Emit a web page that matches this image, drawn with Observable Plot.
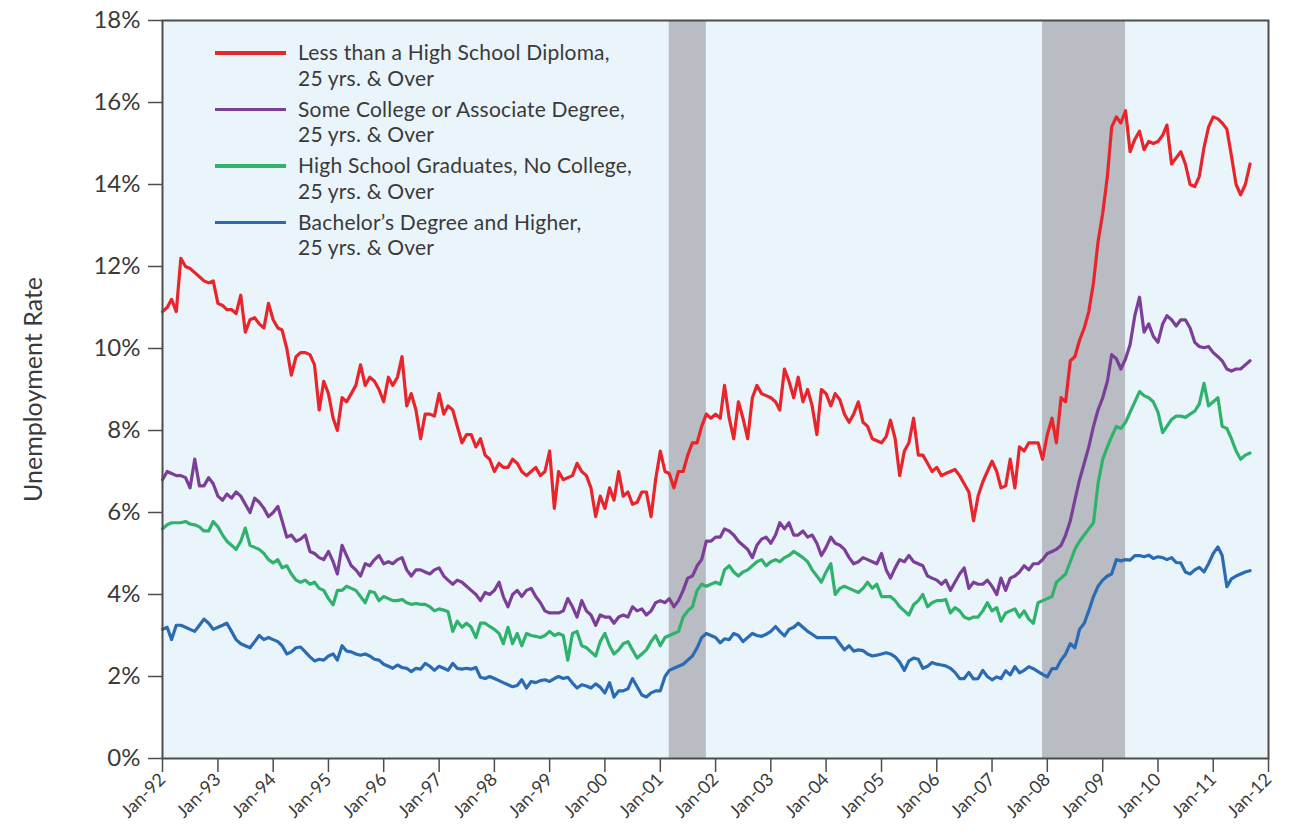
<!DOCTYPE html>
<html>
<head>
<meta charset="utf-8">
<script src="https://cdn.jsdelivr.net/npm/d3@7"></script>
<script src="https://cdn.jsdelivr.net/npm/@observablehq/plot@0.6"></script>
<style>
  body { margin: 0; background: #ffffff; }
  #wrap { position: relative; width: 1289px; height: 840px; font-family: Lato, "Open Sans", sans-serif; color: #3a3a3a; }
  #legend { position: absolute; left: 215px; top: 39px; }
  .entry { display: flex; align-items: flex-start; height: 56.5px; }
  .swatch { width: 71px; height: 3.5px; margin-top: 12px; margin-right: 12px; }
  .label { font-size: 21px; line-height: 25.5px; white-space: nowrap; letter-spacing: 0.2px; }
  .label div { height: 25.5px; }
</style>
</head>
<body>
<div id="wrap"><div id="legend"></div></div>
<script>
// ---- data (monthly, Jan 1992 onward) ----
const startYear = 1992;

const lessThanHS = [
  10.9, 11.0, 11.2, 10.9, 12.2, 12.0, 11.95, 11.85, 11.75, 11.65, 11.6, 11.65,
  11.1, 11.05, 10.95, 10.95, 10.85, 11.3, 10.4, 10.7, 10.75, 10.6, 10.5, 11.1,
  10.7, 10.5, 10.45, 10.0, 9.35, 9.8, 9.9, 9.9, 9.85, 9.6, 8.5, 9.2,
  8.9, 8.3, 8.0, 8.8, 8.7, 8.9, 9.1, 9.6, 9.1, 9.3, 9.2, 9.0,
  8.7, 9.3, 9.1, 9.3, 9.8, 8.6, 8.9, 8.5, 7.8, 8.4, 8.4, 8.35,
  8.9, 8.4, 8.6, 8.5, 8.1, 7.7, 7.9, 7.9, 7.6, 7.8, 7.4, 7.3,
  7.0, 7.2, 7.1, 7.1, 7.3, 7.2, 7.0, 6.9, 7.0, 7.1, 6.9, 7.0,
  7.5, 6.1, 7.0, 6.8, 6.85, 6.9, 7.2, 7.0, 6.9, 6.6, 5.9, 6.4,
  6.1, 6.6, 6.3, 7.0, 6.4, 6.5, 6.2, 6.25, 6.5, 6.5, 5.9, 6.8,
  7.5, 7.0, 6.95, 6.6, 7.0, 7.0, 7.4, 7.7, 7.7, 8.1, 8.4, 8.3,
  8.4, 8.3, 9.1, 8.3, 7.8, 8.7, 8.3, 7.8, 8.8, 9.1, 8.9, 8.85,
  8.8, 8.7, 8.5, 9.5, 9.2, 8.8, 9.3, 8.7, 9.0, 8.6, 7.9, 9.0,
  8.9, 8.6, 8.9, 8.75, 8.4, 8.2, 8.4, 8.7, 8.2, 8.1, 7.8, 7.75,
  7.7, 7.85, 8.25, 7.8, 6.9, 7.5, 7.7, 8.3, 7.4, 7.4, 7.2, 7.0,
  7.1, 6.9, 6.95, 7.0, 7.05, 6.9, 6.7, 6.5, 5.8, 6.4, 6.75, 7.0,
  7.25, 7.0, 6.6, 6.65, 7.3, 6.6, 7.6, 7.5, 7.7, 7.7, 7.7, 7.3,
  7.9, 8.3, 7.7, 8.8, 8.7, 9.7, 9.8, 10.2, 10.5, 10.9, 11.6, 12.6,
  13.3, 14.2, 15.4, 15.65, 15.5, 15.8, 14.8, 15.1, 15.3, 14.85, 15.05, 15.0,
  15.05, 15.2, 15.45, 14.5, 14.65, 14.8, 14.5, 14.0, 13.95, 14.2, 14.9, 15.4,
  15.65, 15.6, 15.5, 15.35, 14.7, 14.0, 13.75, 14.0, 14.5
];

const someCollege = [
  6.8, 7.0, 6.95, 6.9, 6.9, 6.85, 6.6, 7.3, 6.65, 6.65, 6.85, 6.7,
  6.4, 6.3, 6.45, 6.35, 6.5, 6.4, 6.2, 6.0, 6.35, 6.25, 6.1, 5.9,
  6.0, 6.15, 5.8, 5.4, 5.45, 5.3, 5.35, 5.45, 5.05, 5.0, 4.9, 4.85,
  5.05, 4.8, 4.5, 5.2, 4.95, 4.7, 4.6, 4.45, 4.75, 4.7, 4.85, 4.95,
  4.75, 4.8, 4.75, 4.85, 4.9, 4.6, 4.45, 4.6, 4.6, 4.55, 4.5, 4.6,
  4.65, 4.45, 4.35, 4.25, 4.35, 4.3, 4.2, 4.1, 4.0, 3.85, 4.05, 4.0,
  4.1, 4.3, 3.95, 3.7, 4.0, 4.1, 3.95, 4.1, 4.15, 3.95, 3.8, 3.6,
  3.55, 3.55, 3.55, 3.6, 3.9, 3.7, 3.45, 3.85, 3.6, 3.5, 3.25, 3.5,
  3.45, 3.45, 3.3, 3.45, 3.5, 3.45, 3.7, 3.6, 3.65, 3.5, 3.6, 3.8,
  3.85, 3.8, 3.9, 3.7, 3.85, 4.1, 4.4, 4.45, 4.7, 4.85, 5.3, 5.3,
  5.4, 5.4, 5.6, 5.55, 5.45, 5.3, 5.2, 5.1, 4.9, 5.2, 5.35, 5.4,
  5.25, 5.45, 5.75, 5.6, 5.75, 5.45, 5.45, 5.55, 5.4, 5.45, 5.25, 4.95,
  5.15, 5.4, 5.25, 5.2, 5.1, 4.9, 4.75, 4.8, 4.9, 4.85, 4.8, 4.75,
  5.0, 4.6, 4.4, 4.65, 4.85, 4.8, 4.95, 4.8, 4.75, 4.7, 4.45, 4.4,
  4.35, 4.25, 4.35, 4.1, 4.3, 4.5, 4.65, 4.15, 4.3, 4.25, 4.25, 4.35,
  4.2, 4.0, 4.4, 4.1, 4.4, 4.45, 4.55, 4.7, 4.6, 4.75, 4.75, 4.85,
  5.0, 5.05, 5.1, 5.2, 5.45, 5.8, 6.3, 6.8, 7.2, 7.6, 8.1, 8.5,
  8.8, 9.2, 9.85, 9.75, 9.5, 9.75, 10.1, 10.8, 11.25, 10.4, 10.6, 10.3,
  10.15, 10.6, 10.8, 10.7, 10.55, 10.7, 10.7, 10.5, 10.15, 10.05, 10.02, 10.05,
  9.9, 9.8, 9.7, 9.5, 9.45, 9.5, 9.5, 9.6, 9.7
];

const hsGraduates = [
  5.6, 5.7, 5.75, 5.75, 5.75, 5.78, 5.72, 5.7, 5.65, 5.55, 5.55, 5.78,
  5.65, 5.45, 5.3, 5.2, 5.1, 5.3, 5.62, 5.2, 5.15, 5.1, 5.0, 4.85,
  4.77, 4.85, 4.65, 4.7, 4.5, 4.35, 4.3, 4.35, 4.25, 4.3, 4.15, 4.1,
  3.9, 3.75, 4.1, 4.1, 4.2, 4.15, 4.1, 3.95, 3.8, 4.08, 4.05, 3.85,
  3.95, 3.9, 3.85, 3.85, 3.88, 3.8, 3.76, 3.78, 3.76, 3.76, 3.7, 3.6,
  3.65, 3.62, 3.58, 3.1, 3.35, 3.2, 3.3, 3.2, 2.95, 3.3, 3.3, 3.22,
  3.15, 3.05, 2.8, 3.2, 2.8, 3.05, 2.75, 3.05, 3.0, 2.98, 2.95, 3.0,
  3.1, 3.0, 3.05, 3.0, 2.4, 3.05, 3.1, 2.75, 2.7, 2.6, 2.5, 2.85,
  3.05, 2.75, 2.55, 2.65, 2.8, 2.85, 2.65, 2.45, 2.55, 2.65, 2.85, 3.0,
  2.75, 2.95, 3.0, 3.05, 3.1, 3.45, 3.6, 3.7, 4.1, 4.25, 4.2, 4.25,
  4.3, 4.25, 4.6, 4.7, 4.55, 4.45, 4.55, 4.6, 4.7, 4.8, 4.85, 4.7,
  4.8, 4.85, 4.8, 4.9, 4.95, 5.05, 4.98, 4.9, 4.8, 4.6, 4.45, 4.3,
  4.55, 4.75, 4.0, 4.15, 4.2, 4.15, 4.1, 4.05, 4.15, 4.3, 4.15, 4.25,
  3.95, 3.95, 3.95, 3.85, 3.7, 3.6, 3.5, 3.75, 3.85, 4.0, 3.7, 3.8,
  3.85, 3.85, 3.88, 3.55, 3.68, 3.6, 3.45, 3.4, 3.45, 3.45, 3.6, 3.8,
  3.6, 3.68, 3.35, 3.55, 3.6, 3.65, 3.45, 3.6, 3.4, 3.3, 3.8, 3.85,
  3.9, 3.95, 4.3, 4.4, 4.5, 4.8, 5.1, 5.3, 5.45, 5.6, 5.75, 6.7,
  7.3, 7.6, 7.85, 8.1, 8.05, 8.2, 8.45, 8.7, 8.95, 8.85, 8.8, 8.7,
  8.45, 7.95, 8.1, 8.27, 8.35, 8.35, 8.32, 8.4, 8.47, 8.65, 9.15, 8.6,
  8.7, 8.8, 8.1, 8.05, 7.8, 7.5, 7.3, 7.4, 7.45
];

const bachelors = [
  3.15, 3.2, 2.9, 3.25, 3.25, 3.2, 3.15, 3.1, 3.25, 3.4, 3.3, 3.15,
  3.2, 3.25, 3.3, 3.1, 2.9, 2.8, 2.75, 2.7, 2.85, 3.0, 2.9, 2.95,
  2.9, 2.85, 2.75, 2.55, 2.6, 2.7, 2.72, 2.6, 2.48, 2.38, 2.42, 2.4,
  2.5, 2.55, 2.4, 2.75, 2.62, 2.6, 2.55, 2.52, 2.55, 2.5, 2.42, 2.4,
  2.3, 2.25, 2.2, 2.28, 2.22, 2.2, 2.12, 2.2, 2.18, 2.32, 2.25, 2.15,
  2.25, 2.2, 2.15, 2.32, 2.2, 2.18, 2.2, 2.18, 2.22, 1.98, 1.95, 2.0,
  1.95, 1.9, 1.85, 1.8, 1.75, 1.78, 1.92, 1.72, 1.88, 1.85, 1.9, 1.92,
  1.88, 1.95, 2.0, 1.95, 1.98, 1.84, 1.72, 1.8, 1.77, 1.72, 1.82, 1.74,
  1.6, 1.85, 1.5, 1.65, 1.65, 1.7, 1.95, 1.75, 1.55, 1.5, 1.6, 1.65,
  1.65, 2.0, 2.15, 2.2, 2.25, 2.3, 2.4, 2.5, 2.7, 2.95, 3.05, 3.0,
  2.95, 2.82, 2.92, 2.9, 3.05, 3.0, 2.85, 2.95, 3.05, 3.0, 2.98, 3.03,
  3.1, 3.22, 3.1, 2.99, 3.15, 3.2, 3.3, 3.2, 3.1, 3.03, 2.95, 2.95,
  2.95, 2.95, 2.95, 2.8, 2.65, 2.75, 2.62, 2.65, 2.63, 2.55, 2.5, 2.52,
  2.55, 2.58, 2.55, 2.48, 2.35, 2.15, 2.38, 2.45, 2.42, 2.2, 2.25, 2.34,
  2.3, 2.28, 2.26, 2.2, 2.1, 1.95, 1.95, 2.1, 1.94, 1.95, 2.15, 2.0,
  1.92, 1.99, 1.95, 2.14, 2.04, 2.24, 2.09, 2.15, 2.24, 2.19, 2.12, 2.05,
  1.99, 2.19, 2.19, 2.4, 2.55, 2.8, 2.7, 3.15, 3.3, 3.6, 3.95, 4.2,
  4.35, 4.45, 4.5, 4.85, 4.82, 4.85, 4.84, 4.95, 4.95, 4.92, 4.96, 4.88,
  4.92, 4.9, 4.85, 4.9, 4.78, 4.77, 4.55, 4.5, 4.6, 4.66, 4.55, 4.75,
  5.0, 5.16, 4.95, 4.19, 4.38, 4.45, 4.5, 4.55, 4.58
];

const seriesNames = [
  "Less than a High School Diploma,\n25 yrs. & Over",
  "Some College or Associate Degree,\n25 yrs. & Over",
  "High School Graduates, No College,\n25 yrs. & Over",
  "Bachelor\u2019s Degree and Higher,\n25 yrs. & Over"
];
const seriesColors = ["#e8252b", "#7c3f99", "#2fb36c", "#2a6bb3"];
const seriesValues = [lessThanHS, someCollege, hsGraduates, bachelors];

const recessionStarts = ["2001-03-01", "2007-12-01"];
const recessionEnds = ["2001-11-01", "2009-06-01"];

const yTicks = [0, 2, 4, 6, 8, 10, 12, 14, 16, 18];
const xTickYears = d3.range(1992, 2013);

// ---- build tables ----
const monthDate = i => new Date(Date.UTC(startYear, i, 1));
const rows = seriesValues.flatMap((vals, s) =>
  vals.map((v, i) => ({date: monthDate(i), value: v, series: seriesNames[s]})));
const recessions = recessionStarts.map((s, i) => ({start: new Date(s), end: new Date(recessionEnds[i])}));
const xTicks = xTickYears.map(y => new Date(Date.UTC(y, 0, 1)));

const chart = Plot.plot({
  width: 1289,
  height: 840,
  marginLeft: 162,
  marginRight: 21,
  marginTop: 20,
  marginBottom: 82,
  style: {fontFamily: "Lato, 'Open Sans', sans-serif", color: "#3a3a3a", background: "#ffffff"},
  x: {type: "utc", domain: [xTicks[0], xTicks[xTicks.length - 1]]},
  y: {domain: [0, 18]},
  color: {domain: seriesNames, range: seriesColors},
  marks: [
    Plot.frame({fill: "#eaf4fb"}),
    Plot.rect(recessions, {x1: "start", x2: "end", fill: "#b9bcc2"}),
    Plot.line(rows, {x: "date", y: "value", z: "series", stroke: "series", strokeWidth: 3.2, strokeLinejoin: "round"}),
    Plot.frame({stroke: "#4d4d4d", strokeWidth: 2}),
    Plot.axisY({ticks: yTicks, tickFormat: d => d + "%", tickSize: 14, tickPadding: 8, fontSize: 24,
      stroke: "#4d4d4d", strokeWidth: 1.5, label: "Unemployment Rate", labelAnchor: "center",
      labelArrow: "none", labelOffset: 138}),
    Plot.axisX({ticks: xTicks, tickFormat: d3.utcFormat("%b-%y"), tickSize: 14, tickPadding: 4,
      tickRotate: -45, fontSize: 18, stroke: "#4d4d4d", strokeWidth: 1.5, label: null})
  ]
});

// the rotated y-axis title size
chart.querySelectorAll("text").forEach(t => {
  if (t.textContent === "Unemployment Rate") t.setAttribute("font-size", "25");
});

document.getElementById("wrap").prepend(chart);

// ---- legend (inside the plot area, upper left) ----
const legend = document.getElementById("legend");
seriesNames.forEach((name, i) => {
  const entry = document.createElement("div");
  entry.className = "entry";
  const sw = document.createElement("div");
  sw.className = "swatch";
  sw.style.background = seriesColors[i];
  const lab = document.createElement("div");
  lab.className = "label";
  name.split("\n").forEach(line => {
    const d = document.createElement("div");
    d.textContent = line;
    lab.append(d);
  });
  entry.append(sw, lab);
  legend.append(entry);
});
</script>
</body>
</html>
